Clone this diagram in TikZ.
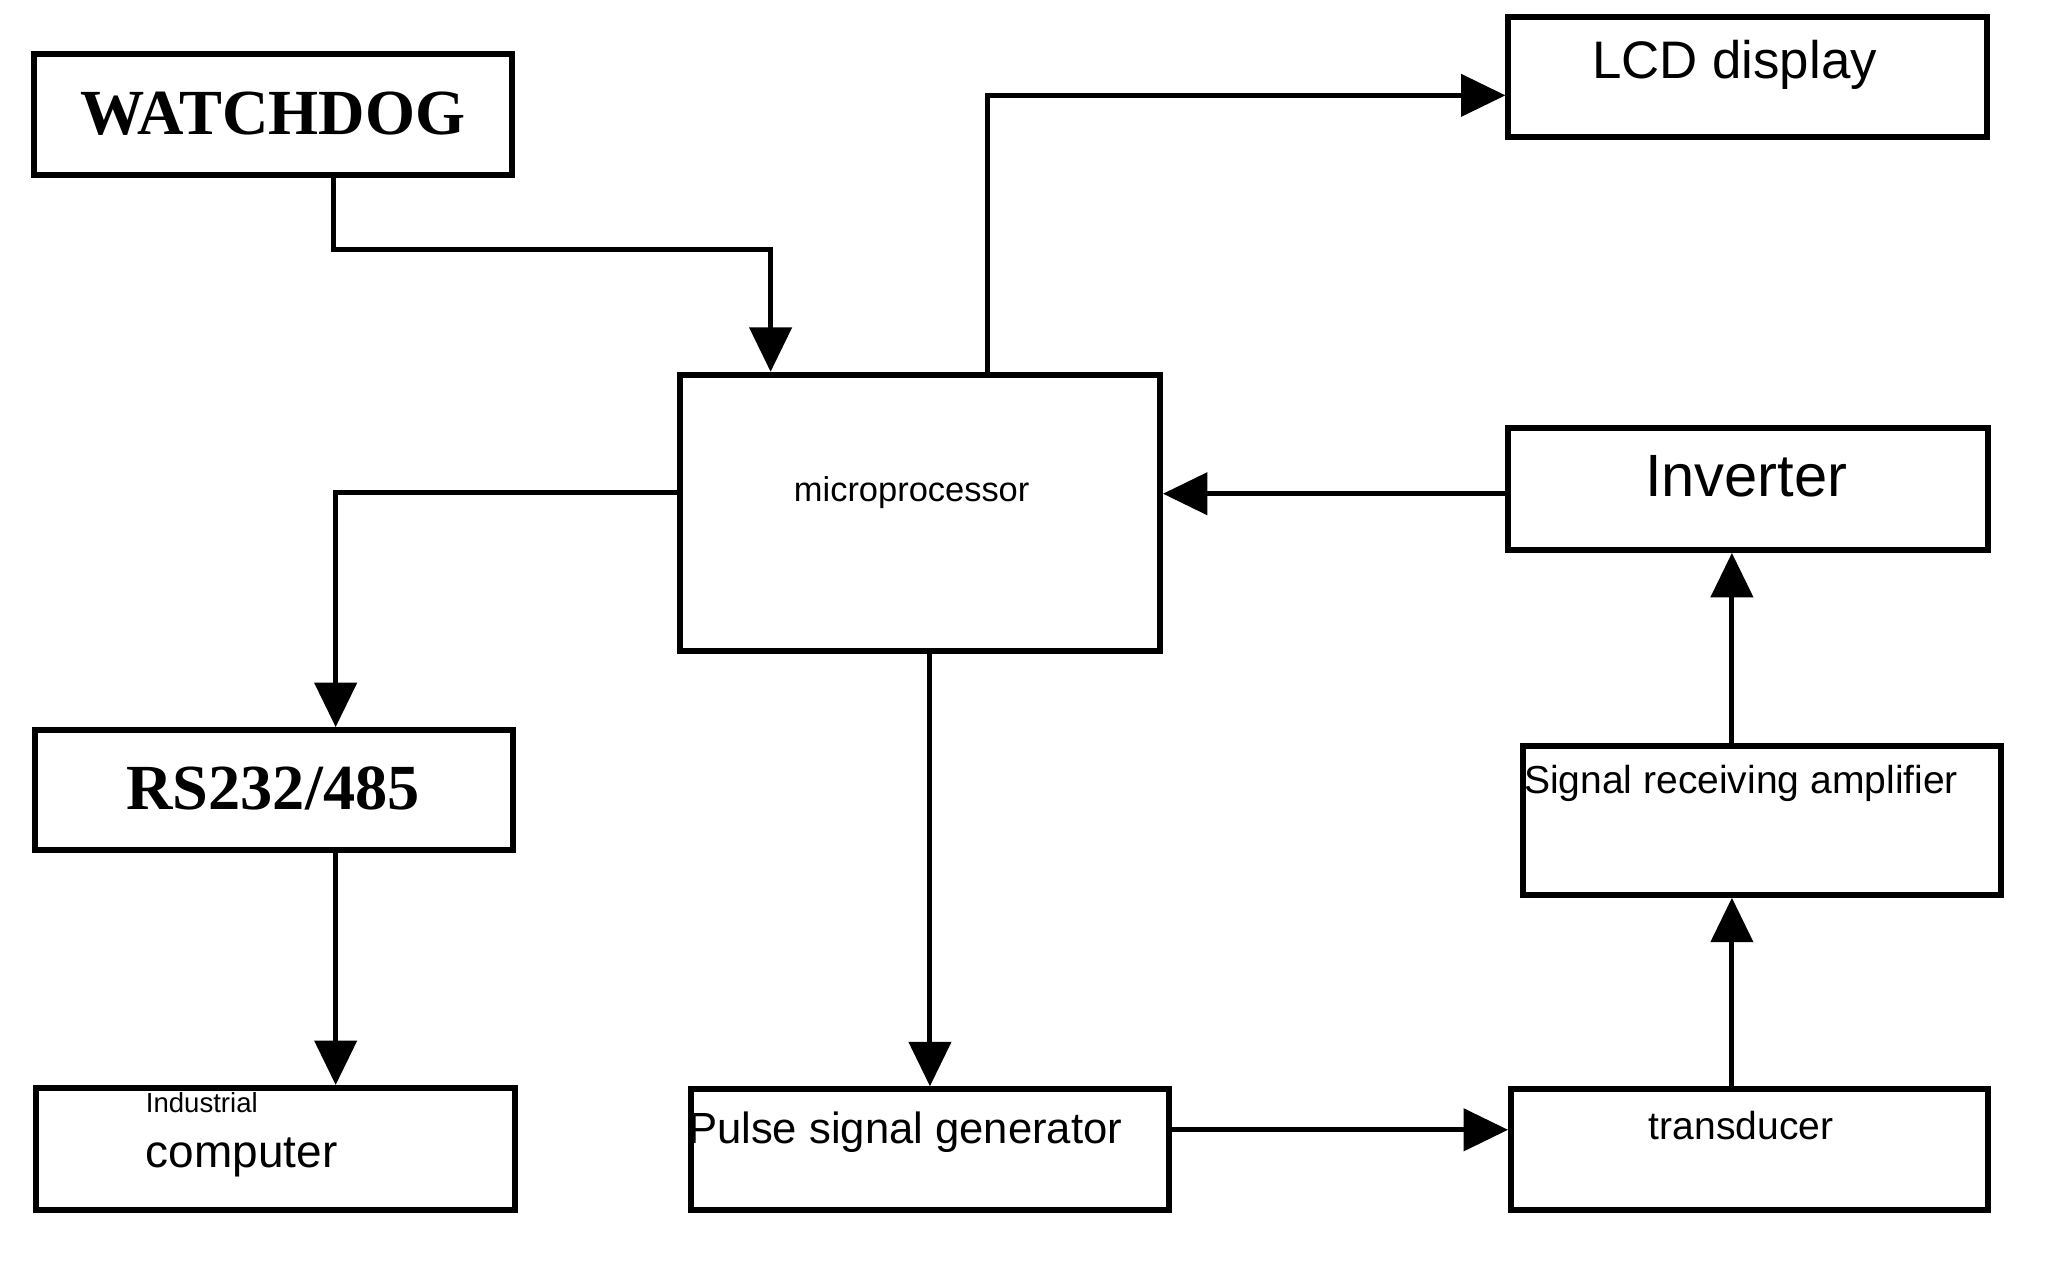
\documentclass[tikz,border=0pt]{standalone}
\usepackage{fontspec}
\setmainfont{Liberation Sans}
\newfontfamily\boldserif{Liberation Serif}
\usetikzlibrary{arrows.meta}

\begin{document}
\begin{tikzpicture}[x=0.01cm,y=-0.01cm,
    box/.style={draw,line width=1.3pt,inner sep=0pt},
    link/.style={line width=1.1pt,-{Triangle[length=0.34cm,width=0.32cm]}}]
    \useasboundingbox (0,0) rectangle (1568,972);
    % blocks
    \node[box,minimum width=3.66cm,minimum height=0.93cm] (wdog) at (209,87.5) {};
    \node[box,minimum width=3.66cm,minimum height=0.92cm] (lcd) at (1338,59) {};
    \node[box,minimum width=3.67cm,minimum height=2.11cm] (mcu) at (704.5,392.5) {};
    \node[box,minimum width=3.67cm,minimum height=0.93cm] (inv) at (1338.5,374.5) {};
    \node[box,minimum width=3.66cm,minimum height=0.92cm] (rs) at (210,605) {};
    \node[box,minimum width=3.66cm,minimum height=1.14cm] (amp) at (1349,628) {};
    \node[box,minimum width=3.66cm,minimum height=0.93cm] (pc) at (211,879.5) {};
    \node[box,minimum width=3.66cm,minimum height=0.92cm] (pulse) at (712,880) {};
    \node[box,minimum width=3.65cm,minimum height=0.92cm] (trans) at (1339.5,880) {};
    % texts
    \node at (209,87) {\boldserif\bfseries\fontsize{14}{14}\selectfont WATCHDOG};
    \node at (1328,50) {\fontsize{11.5}{12}\selectfont LCD display};
    \node at (698,377) {\fontsize{7.5}{8}\selectfont microprocessor};
    \node at (1337,365) {\fontsize{13}{14}\selectfont Inverter};
    \node at (209,604) {\boldserif\bfseries\fontsize{14}{14}\selectfont RS232/485};
    \node at (1333,600) {\fontsize{8.5}{9}\selectfont Signal receiving amplifier};
    \node[align=left] at (185,869) {\fontsize{6}{7.5}\selectfont Industrial\\computer};
    \node at (693,867) {\fontsize{9.5}{10}\selectfont Pulse signal generator};
    \node at (1333,862) {\fontsize{8.5}{9}\selectfont transducer};
    % connections
    \draw[link] (wdog.south -| 255,0) |- (590,191) -- (mcu.north -| 590,0);
    \draw[link] (mcu.north -| 756,0) |- (lcd.west |- 0,73);
    \draw[link] (inv.west |- 0,378) -- (mcu.east |- 0,378);
    \draw[link] (mcu.west |- 0,377) -| (rs.north -| 257,0);
    \draw[link] (rs.south -| 257,0) -- (pc.north -| 257,0);
    \draw[link] (mcu.south -| 712,0) -- (pulse.north -| 712,0);
    \draw[link] (pulse.east |- 0,865) -- (trans.west |- 0,865);
    \draw[link] (trans.north -| 1326,0) -- (amp.south -| 1326,0);
    \draw[link] (amp.north -| 1326,0) -- (inv.south -| 1326,0);
\end{tikzpicture}
\end{document}
